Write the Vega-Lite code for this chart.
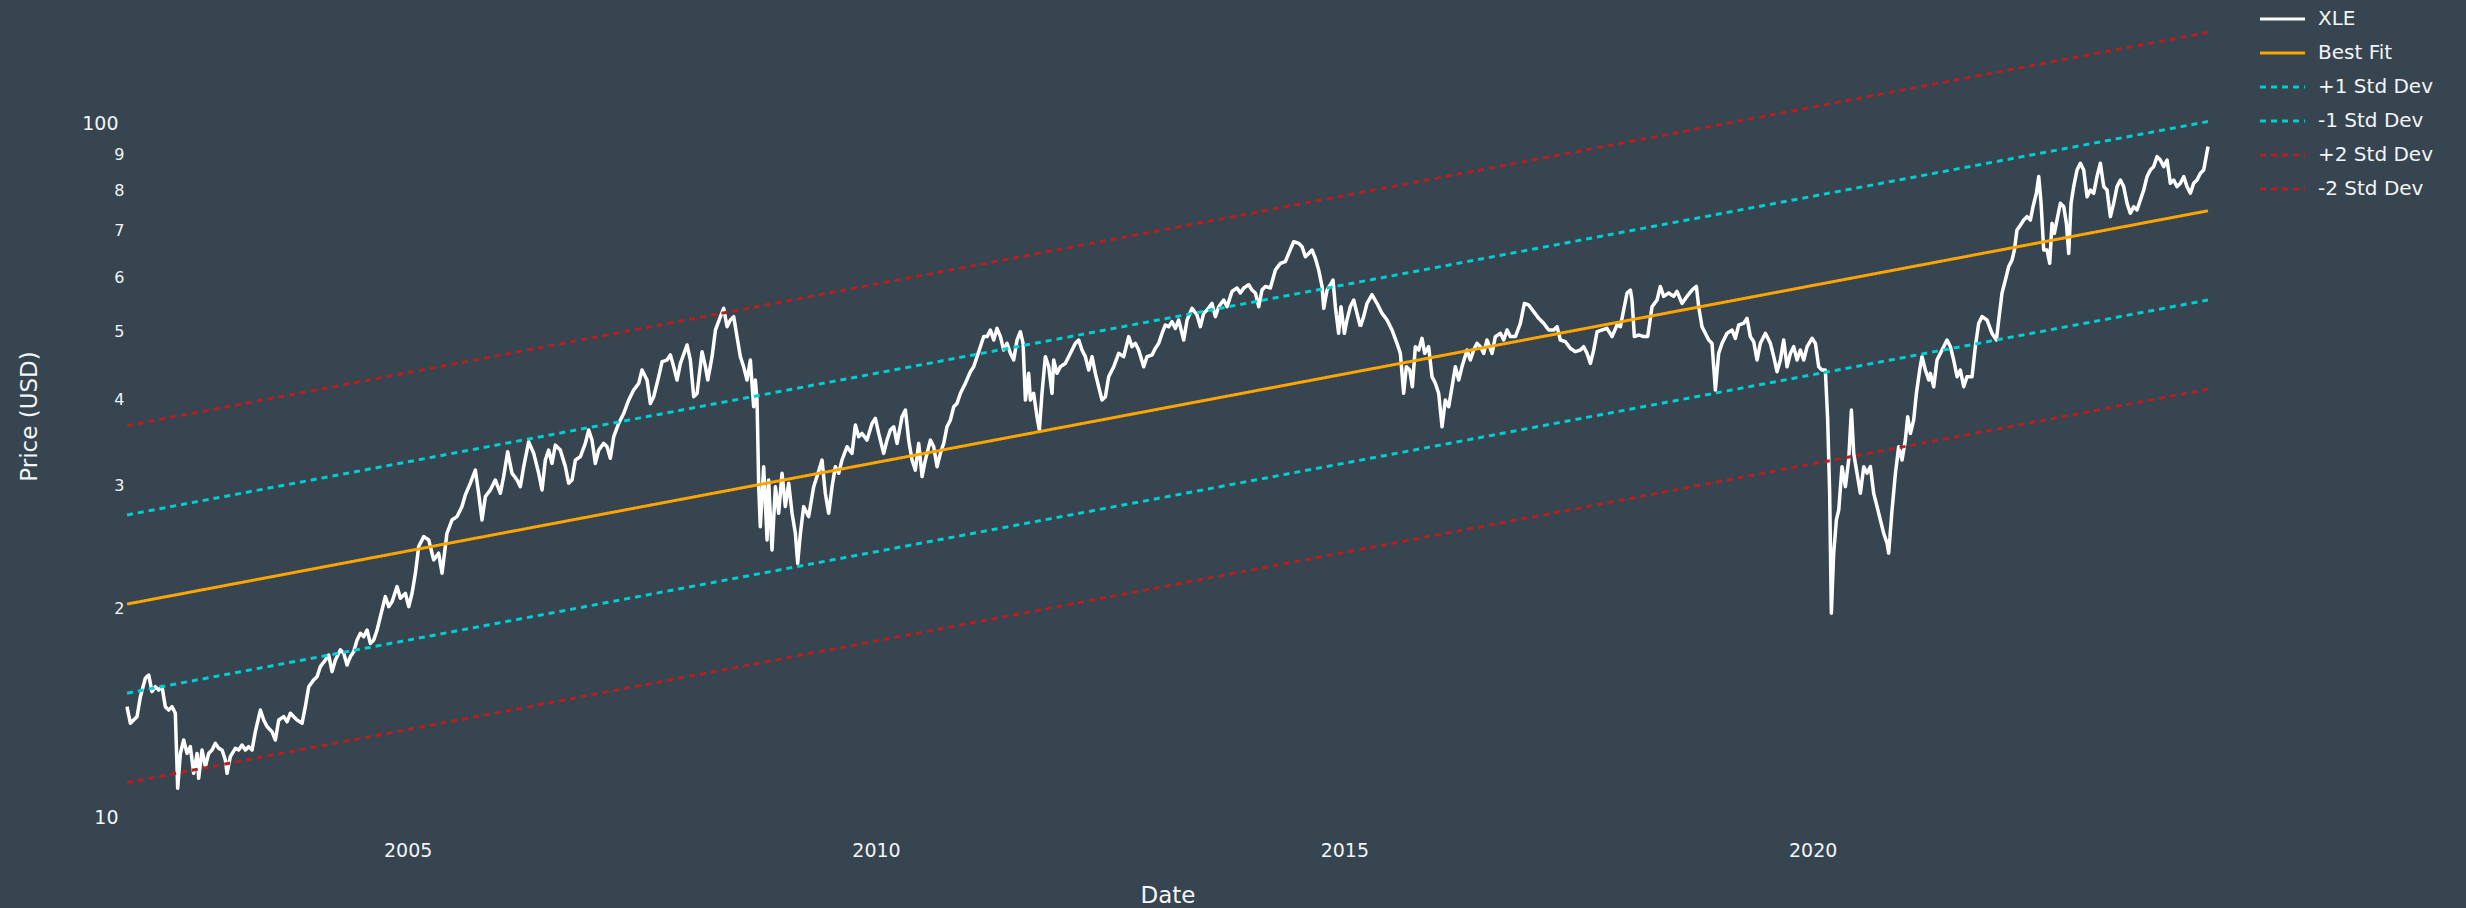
{
"$schema": "https://vega.github.io/schema/vega-lite/v6.json",
"width": 2081, "height": 797,
"autosize": {"type": "none"},
"padding": {"left": 127, "top": 20, "right": 258, "bottom": 91},
"background": "#36454F",
"config": {"view": {"stroke": null}, "font": "DejaVu Sans",
  "legend": {"orient": "none", "legendX": 2131.5, "legendY": -18, "symbolType": "stroke", "symbolSize": 2025, "symbolStrokeWidth": 3,
    "labelFontSize": 20, "labelColor": "#f2f5fa", "labelFont": "DejaVu Sans", "clipHeight": 34, "rowPadding": 0, "labelOffset": 11.5, "padding": 0, "labelLimit": 300}},
"datasets": {
"fit": [
{"year": 2002.004, "price": 20.27, "series": "Best Fit"}, {"year": 2024.22, "price": 74.76, "series": "Best Fit"},
{"year": 2002.004, "price": 27.25, "series": "+1 Std Dev"}, {"year": 2024.22, "price": 100.52, "series": "+1 Std Dev"},
{"year": 2002.004, "price": 15.08, "series": "-1 Std Dev"}, {"year": 2024.22, "price": 55.60, "series": "-1 Std Dev"},
{"year": 2002.004, "price": 36.64, "series": "+2 Std Dev"}, {"year": 2024.22, "price": 135.15, "series": "+2 Std Dev"},
{"year": 2002.004, "price": 11.21, "series": "-2 Std Dev"}, {"year": 2024.22, "price": 41.36, "series": "-2 Std Dev"}
],
"xle": [
{"year":2002.004,"price":14.42},{"year":2002.040,"price":13.65},{"year":2002.075,"price":13.80},{"year":2002.111,"price":13.95},{"year":2002.147,"price":14.91},{"year":2002.200,"price":15.85},{"year":2002.236,"price":16.02},{"year":2002.271,"price":15.16},{"year":2002.307,"price":15.41},{"year":2002.342,"price":15.24},{"year":2002.378,"price":15.41},{"year":2002.413,"price":14.42},{"year":2002.449,"price":14.26},{"year":2002.485,"price":14.42},{"year":2002.520,"price":14.11},{"year":2002.545,"price":11.00},{"year":2002.574,"price":12.35},{"year":2002.609,"price":12.91},{"year":2002.645,"price":12.35},{"year":2002.680,"price":12.63},{"year":2002.716,"price":11.56},{"year":2002.752,"price":12.35},{"year":2002.769,"price":11.37},{"year":2002.805,"price":12.49},{"year":2002.841,"price":11.82},{"year":2002.876,"price":12.35},{"year":2002.912,"price":12.49},{"year":2002.947,"price":12.77},{"year":2002.983,"price":12.56},{"year":2003.019,"price":12.49},{"year":2003.054,"price":12.08},{"year":2003.072,"price":11.56},{"year":2003.107,"price":12.22},{"year":2003.161,"price":12.56},{"year":2003.196,"price":12.49},{"year":2003.232,"price":12.70},{"year":2003.268,"price":12.49},{"year":2003.303,"price":12.63},{"year":2003.339,"price":12.49},{"year":2003.374,"price":13.27},{"year":2003.428,"price":14.26},{"year":2003.463,"price":13.80},{"year":2003.499,"price":13.50},{"year":2003.552,"price":13.27},{"year":2003.588,"price":12.91},{"year":2003.624,"price":13.80},{"year":2003.677,"price":13.95},{"year":2003.713,"price":13.72},{"year":2003.748,"price":14.11},{"year":2003.784,"price":13.95},{"year":2003.819,"price":13.80},{"year":2003.873,"price":13.65},{"year":2003.908,"price":14.42},{"year":2003.944,"price":15.41},{"year":2003.997,"price":15.76},{"year":2004.033,"price":15.93},{"year":2004.068,"price":16.47},{"year":2004.122,"price":16.84},{"year":2004.157,"price":17.12},{"year":2004.193,"price":16.20},{"year":2004.229,"price":16.84},{"year":2004.282,"price":17.41},{"year":2004.318,"price":17.22},{"year":2004.353,"price":16.56},{"year":2004.389,"price":17.03},{"year":2004.424,"price":17.31},{"year":2004.460,"price":17.99},{"year":2004.496,"price":18.40},{"year":2004.531,"price":18.19},{"year":2004.567,"price":18.60},{"year":2004.602,"price":17.79},{"year":2004.638,"price":17.99},{"year":2004.674,"price":18.60},{"year":2004.709,"price":19.45},{"year":2004.762,"price":20.78},{"year":2004.798,"price":20.10},{"year":2004.834,"price":20.43},{"year":2004.887,"price":21.48},{"year":2004.923,"price":20.66},{"year":2004.976,"price":21.01},{"year":2005.012,"price":20.10},{"year":2005.047,"price":21.01},{"year":2005.083,"price":22.46},{"year":2005.118,"price":24.53},{"year":2005.154,"price":25.08},
{"year":2005.171,"price":25.36},{"year":2005.225,"price":25.08},{"year":2005.278,"price":23.47},{"year":2005.331,"price":24.00},{"year":2005.367,"price":22.46},{"year":2005.420,"price":25.64},{"year":2005.474,"price":26.80},{"year":2005.527,"price":27.10},{"year":2005.580,"price":28.01},{"year":2005.616,"price":29.12},{"year":2005.669,"price":30.27},{"year":2005.723,"price":31.62},{"year":2005.758,"price":29.28},{"year":2005.794,"price":26.80},{"year":2005.830,"price":28.96},{"year":2005.883,"price":29.60},{"year":2005.936,"price":30.60},{"year":2005.990,"price":29.28},{"year":2006.025,"price":30.95},{"year":2006.068,"price":33.60},{"year":2006.114,"price":31.29},{"year":2006.168,"price":30.60},{"year":2006.203,"price":29.93},{"year":2006.239,"price":31.98},{"year":2006.292,"price":34.73},{"year":2006.346,"price":33.42},{"year":2006.399,"price":31.29},{"year":2006.435,"price":29.60},{"year":2006.470,"price":32.69},{"year":2006.506,"price":33.79},{"year":2006.541,"price":32.33},{"year":2006.577,"price":34.35},{"year":2006.630,"price":33.79},{"year":2006.684,"price":31.98},{"year":2006.719,"price":30.27},{"year":2006.755,"price":30.60},{"year":2006.791,"price":32.69},{"year":2006.844,"price":33.06},{"year":2006.897,"price":34.55},{"year":2006.933,"price":36.11},{"year":2006.968,"price":34.93},{"year":2007.004,"price":32.33},{"year":2007.040,"price":33.79},{"year":2007.093,"price":34.55},{"year":2007.129,"price":34.17},{"year":2007.164,"price":32.88},{"year":2007.200,"price":35.32},{"year":2007.253,"price":36.92},{"year":2007.307,"price":38.17},{"year":2007.360,"price":39.89},{"year":2007.413,"price":41.24},{"year":2007.467,"price":42.16},{"year":2007.502,"price":44.07},{"year":2007.556,"price":42.63},{"year":2007.591,"price":39.45},{"year":2007.627,"price":40.34},{"year":2007.680,"price":43.10},{"year":2007.716,"price":45.30},{"year":2007.769,"price":45.56},{"year":2007.805,"price":46.33},{"year":2007.840,"price":44.56},{"year":2007.876,"price":42.63},{"year":2007.912,"price":45.05},{"year":2007.983,"price":47.89},{"year":2008.018,"price":45.56},{"year":2008.054,"price":40.34},{"year":2008.090,"price":40.79},{"year":2008.143,"price":46.84},{"year":2008.179,"price":44.56},{"year":2008.204,"price":42.63},{"year":2008.250,"price":46.07},{"year":2008.286,"price":50.33},{"year":2008.339,"price":52.61},{"year":2008.374,"price":54.08},{"year":2008.410,"price":50.89},{"year":2008.446,"price":52.03},
{"year":2008.481,"price":52.61},{"year":2008.516,"price":49.24},{"year":2008.552,"price":46.07},{"year":2008.587,"price":44.56},{"year":2008.623,"price":42.63},{"year":2008.659,"price":45.56},{"year":2008.676,"price":42.16},{"year":2008.694,"price":39.02},{"year":2008.712,"price":42.63},{"year":2008.730,"price":39.89},{"year":2008.748,"price":29.93},{"year":2008.765,"price":26.20},{"year":2008.801,"price":31.98},{"year":2008.837,"price":25.08},{"year":2008.854,"price":30.60},{"year":2008.872,"price":27.10},{"year":2008.890,"price":24.26},{"year":2008.926,"price":29.93},{"year":2008.961,"price":27.40},{"year":2008.997,"price":31.29},{"year":2009.032,"price":28.01},{"year":2009.068,"price":30.27},{"year":2009.104,"price":27.40},{"year":2009.139,"price":25.64},{"year":2009.164,"price":23.21},{"year":2009.193,"price":25.64},{"year":2009.228,"price":28.01},{"year":2009.281,"price":27.10},{"year":2009.335,"price":29.93},{"year":2009.370,"price":30.95},{"year":2009.424,"price":32.69},{"year":2009.459,"price":29.28},{"year":2009.495,"price":27.40},{"year":2009.531,"price":29.93},{"year":2009.566,"price":31.98},{"year":2009.602,"price":31.29},{"year":2009.637,"price":32.69},{"year":2009.691,"price":34.17},{"year":2009.744,"price":33.42},{"year":2009.780,"price":36.72},{"year":2009.815,"price":35.32},{"year":2009.851,"price":35.71},{"year":2009.904,"price":34.93},{"year":2009.958,"price":36.92},{"year":2009.993,"price":37.54},{"year":2010.029,"price":35.71},{"year":2010.082,"price":33.42},{"year":2010.118,"price":34.93},{"year":2010.153,"price":36.11},{"year":2010.189,"price":36.51},{"year":2010.225,"price":34.55},{"year":2010.278,"price":37.75},{"year":2010.314,"price":38.59},{"year":2010.349,"price":34.93},{"year":2010.385,"price":32.69},{"year":2010.420,"price":31.62},{"year":2010.456,"price":34.55},{"year":2010.492,"price":30.95},{"year":2010.527,"price":32.69},{"year":2010.581,"price":34.93},{"year":2010.616,"price":34.17},{"year":2010.652,"price":31.98},{"year":2010.687,"price":33.42},{"year":2010.723,"price":34.55},{"year":2010.758,"price":36.51},{"year":2010.794,"price":37.33},{"year":2010.830,"price":39.02},{"year":2010.865,"price":39.45},{"year":2010.901,"price":40.79},{"year":2010.954,"price":42.16},{"year":2011.008,"price":43.83},{"year":2011.043,"price":44.56},{"year":2011.079,"price":46.07},{"year":2011.114,"price":47.62},{"year":2011.150,"price":49.24},{"year":2011.186,"price":49.24},{"year":2011.221,"price":50.33},{"year":2011.257,"price":48.69},{"year":2011.292,"price":50.61},{"year":2011.328,"price":49.24},{"year":2011.363,"price":47.10},{"year":2011.399,"price":48.15},{"year":2011.435,"price":46.58},{"year":2011.470,"price":45.56},{"year":2011.506,"price":48.69},{"year":2011.541,"price":50.05},{"year":2011.570,"price":48.15},{"year":2011.595,"price":39.89},{"year":2011.630,"price":43.59},{"year":2011.648,"price":39.89},
{"year":2011.683,"price":40.79},{"year":2011.719,"price":37.75},{"year":2011.744,"price":36.11},{"year":2011.772,"price":40.79},{"year":2011.808,"price":46.07},{"year":2011.844,"price":44.56},{"year":2011.879,"price":40.79},{"year":2011.897,"price":45.56},{"year":2011.932,"price":43.59},{"year":2011.968,"price":44.56},{"year":2012.021,"price":45.05},{"year":2012.075,"price":46.58},{"year":2012.128,"price":48.15},{"year":2012.164,"price":48.69},{"year":2012.199,"price":47.10},{"year":2012.235,"price":46.07},{"year":2012.271,"price":44.07},{"year":2012.306,"price":46.07},{"year":2012.342,"price":43.59},{"year":2012.377,"price":41.69},{"year":2012.413,"price":39.89},{"year":2012.449,"price":40.34},{"year":2012.484,"price":43.10},{"year":2012.538,"price":44.56},{"year":2012.591,"price":46.58},{"year":2012.644,"price":46.07},{"year":2012.698,"price":49.24},{"year":2012.733,"price":47.62},{"year":2012.769,"price":48.15},{"year":2012.804,"price":47.10},{"year":2012.858,"price":44.56},{"year":2012.893,"price":46.07},{"year":2012.947,"price":46.33},{"year":2012.982,"price":47.36},{"year":2013.018,"price":48.15},{"year":2013.054,"price":49.78},{"year":2013.089,"price":51.18},{"year":2013.125,"price":50.89},{"year":2013.160,"price":51.74},{"year":2013.196,"price":50.61},{"year":2013.231,"price":52.03},{"year":2013.285,"price":48.69},{"year":2013.321,"price":52.03},{"year":2013.374,"price":54.08},{"year":2013.427,"price":52.91},{"year":2013.463,"price":50.89},{"year":2013.498,"price":53.20},{"year":2013.534,"price":53.78},{"year":2013.587,"price":54.97},{"year":2013.623,"price":52.61},{"year":2013.659,"price":54.38},{"year":2013.712,"price":55.60},{"year":2013.748,"price":54.38},{"year":2013.801,"price":57.22},{"year":2013.854,"price":57.86},{"year":2013.890,"price":56.91},{"year":2013.926,"price":57.86},{"year":2013.979,"price":58.49},{"year":2014.014,"price":57.47},{"year":2014.050,"price":56.91},{"year":2014.086,"price":54.38},{"year":2014.121,"price":57.47},{"year":2014.157,"price":58.16},{"year":2014.210,"price":57.86},{"year":2014.264,"price":61.42},{"year":2014.317,"price":62.80},{"year":2014.370,"price":63.14},{"year":2014.406,"price":64.90},{"year":2014.459,"price":67.47},{"year":2014.513,"price":67.10},{"year":2014.548,"price":66.37},{"year":2014.584,"price":64.18},{"year":2014.620,"price":64.90},{"year":2014.655,"price":65.63},{"year":2014.691,"price":63.84},{"year":2014.726,"price":61.42},{"year":2014.762,"price":58.16},{"year":2014.780,"price":54.08},{"year":2014.815,"price":57.47},{"year":2014.851,"price":58.49},
{"year":2014.879,"price":59.41},{"year":2014.904,"price":54.38},{"year":2014.939,"price":49.78},{"year":2014.964,"price":54.38},{"year":2015.000,"price":49.78},{"year":2015.028,"price":52.03},{"year":2015.064,"price":54.38},{"year":2015.100,"price":55.60},{"year":2015.135,"price":53.20},{"year":2015.171,"price":50.89},{"year":2015.206,"price":52.61},{"year":2015.242,"price":54.97},{"year":2015.295,"price":56.59},{"year":2015.349,"price":54.97},{"year":2015.402,"price":53.20},{"year":2015.456,"price":52.03},{"year":2015.509,"price":50.33},{"year":2015.562,"price":48.15},{"year":2015.598,"price":46.58},{"year":2015.633,"price":40.79},{"year":2015.662,"price":44.56},{"year":2015.698,"price":44.07},{"year":2015.726,"price":41.69},{"year":2015.758,"price":47.62},{"year":2015.794,"price":47.10},{"year":2015.829,"price":48.96},{"year":2015.858,"price":46.58},{"year":2015.900,"price":47.62},{"year":2015.936,"price":43.10},{"year":2015.972,"price":42.16},{"year":2016.007,"price":40.79},{"year":2016.043,"price":36.51},{"year":2016.078,"price":39.89},{"year":2016.114,"price":39.02},{"year":2016.150,"price":41.69},{"year":2016.185,"price":44.56},{"year":2016.221,"price":42.63},{"year":2016.256,"price":44.56},{"year":2016.310,"price":47.10},{"year":2016.345,"price":45.56},{"year":2016.381,"price":47.10},{"year":2016.416,"price":48.15},{"year":2016.452,"price":47.62},{"year":2016.488,"price":46.58},{"year":2016.523,"price":48.69},{"year":2016.577,"price":46.58},{"year":2016.612,"price":49.24},{"year":2016.666,"price":49.78},{"year":2016.701,"price":48.69},{"year":2016.737,"price":50.33},{"year":2016.773,"price":49.24},{"year":2016.826,"price":49.24},{"year":2016.879,"price":51.46},{"year":2016.922,"price":54.97},{"year":2016.968,"price":54.68},{"year":2017.022,"price":53.48},{"year":2017.075,"price":52.32},{"year":2017.128,"price":51.46},{"year":2017.182,"price":50.33},{"year":2017.235,"price":50.33},{"year":2017.271,"price":50.89},{"year":2017.306,"price":48.69},{"year":2017.360,"price":48.42},{"year":2017.413,"price":47.36},{"year":2017.466,"price":46.84},{"year":2017.520,"price":47.10},{"year":2017.555,"price":47.62},{"year":2017.591,"price":46.58},{"year":2017.627,"price":45.05},{"year":2017.662,"price":47.10},{"year":2017.698,"price":50.05},{"year":2017.751,"price":50.33},{"year":2017.804,"price":50.61},{"year":2017.858,"price":49.24},{"year":2017.911,"price":51.18},{"year":2017.947,"price":50.89},{"year":2017.982,"price":53.78},{"year":2018.018,"price":56.91},{"year":2018.054,"price":57.47},
{"year":2018.071,"price":55.60},{"year":2018.096,"price":49.24},{"year":2018.142,"price":49.51},{"year":2018.196,"price":49.24},{"year":2018.238,"price":49.24},{"year":2018.285,"price":54.38},{"year":2018.338,"price":55.60},{"year":2018.373,"price":58.16},{"year":2018.409,"price":56.27},{"year":2018.462,"price":56.91},{"year":2018.516,"price":56.27},{"year":2018.551,"price":57.22},{"year":2018.605,"price":54.97},{"year":2018.658,"price":56.27},{"year":2018.712,"price":57.47},{"year":2018.758,"price":58.16},{"year":2018.783,"price":54.38},{"year":2018.818,"price":50.89},{"year":2018.854,"price":49.78},{"year":2018.890,"price":48.69},{"year":2018.925,"price":48.15},{"year":2018.961,"price":41.24},{"year":2018.996,"price":46.58},{"year":2019.032,"price":48.15},{"year":2019.085,"price":49.78},{"year":2019.139,"price":50.33},{"year":2019.174,"price":48.96},{"year":2019.210,"price":51.18},{"year":2019.263,"price":51.46},{"year":2019.299,"price":52.32},{"year":2019.334,"price":49.24},{"year":2019.370,"price":48.42},{"year":2019.406,"price":45.56},{"year":2019.441,"price":48.15},{"year":2019.495,"price":49.78},{"year":2019.548,"price":48.15},{"year":2019.584,"price":46.07},{"year":2019.619,"price":43.83},{"year":2019.655,"price":45.56},{"year":2019.690,"price":48.69},{"year":2019.726,"price":44.56},{"year":2019.762,"price":46.58},{"year":2019.797,"price":47.62},{"year":2019.833,"price":45.56},{"year":2019.868,"price":47.10},{"year":2019.904,"price":45.56},{"year":2019.940,"price":47.62},{"year":2019.993,"price":48.96},{"year":2020.029,"price":48.15},{"year":2020.064,"price":44.56},{"year":2020.100,"price":44.07},{"year":2020.135,"price":44.07},{"year":2020.160,"price":37.33},{"year":2020.181,"price":29.28},{"year":2020.199,"price":19.66},{"year":2020.224,"price":24.00},{"year":2020.253,"price":26.80},{"year":2020.278,"price":27.70},{"year":2020.313,"price":31.98},{"year":2020.349,"price":29.93},{"year":2020.384,"price":32.69},{"year":2020.413,"price":38.59},{"year":2020.438,"price":33.42},{"year":2020.473,"price":31.29},{"year":2020.509,"price":29.28},{"year":2020.545,"price":31.98},{"year":2020.580,"price":31.29},{"year":2020.616,"price":31.98},{"year":2020.651,"price":29.28},{"year":2020.687,"price":28.01},{"year":2020.722,"price":26.80},{"year":2020.758,"price":25.64},{"year":2020.794,"price":24.81},{"year":2020.811,"price":24.00},{"year":2020.847,"price":27.70},{"year":2020.883,"price":31.29},{"year":2020.918,"price":34.17},{"year":2020.954,"price":32.69},{"year":2020.989,"price":34.93},{"year":2021.014,"price":37.75},{"year":2021.043,"price":35.71},{"year":2021.078,"price":37.33},{"year":2021.107,"price":40.79},{"year":2021.142,"price":44.07},{"year":2021.167,"price":46.07},{"year":2021.203,"price":44.07},{"year":2021.239,"price":42.63},{"year":2021.256,"price":43.59},
{"year":2021.292,"price":41.69},{"year":2021.327,"price":45.56},{"year":2021.381,"price":47.10},{"year":2021.434,"price":48.69},{"year":2021.470,"price":47.62},{"year":2021.505,"price":45.56},{"year":2021.541,"price":43.10},{"year":2021.576,"price":44.07},{"year":2021.612,"price":41.69},{"year":2021.647,"price":43.10},{"year":2021.701,"price":43.10},{"year":2021.736,"price":47.62},{"year":2021.772,"price":51.46},{"year":2021.808,"price":52.61},{"year":2021.861,"price":52.03},{"year":2021.914,"price":49.78},{"year":2021.961,"price":48.69},{"year":2021.986,"price":52.03},{"year":2022.021,"price":56.91},{"year":2022.057,"price":59.41},{"year":2022.092,"price":62.11},{"year":2022.128,"price":63.49},{"year":2022.153,"price":65.63},{"year":2022.181,"price":70.14},{"year":2022.217,"price":71.26},{"year":2022.253,"price":72.51},{"year":2022.288,"price":73.32},{"year":2022.324,"price":72.51},{"year":2022.352,"price":75.78},{"year":2022.388,"price":79.23},{"year":2022.413,"price":83.74},{"year":2022.438,"price":76.63},{"year":2022.466,"price":65.63},{"year":2022.502,"price":65.63},{"year":2022.530,"price":62.80},{"year":2022.555,"price":71.72},{"year":2022.580,"price":69.36},{"year":2022.608,"price":72.51},{"year":2022.644,"price":76.63},{"year":2022.680,"price":75.78},{"year":2022.708,"price":71.72},{"year":2022.733,"price":64.90},{"year":2022.758,"price":76.63},{"year":2022.786,"price":81.00},{"year":2022.822,"price":85.60},{"year":2022.858,"price":87.52},{"year":2022.893,"price":85.60},{"year":2022.929,"price":78.34},{"year":2022.964,"price":80.10},{"year":2023.000,"price":79.23},{"year":2023.035,"price":83.74},{"year":2023.071,"price":87.52},{"year":2023.107,"price":81.00},{"year":2023.142,"price":80.10},{"year":2023.178,"price":73.32},{"year":2023.213,"price":76.63},{"year":2023.249,"price":81.00},{"year":2023.285,"price":82.80},{"year":2023.320,"price":81.00},{"year":2023.356,"price":76.63},{"year":2023.391,"price":74.13},{"year":2023.427,"price":75.78},{"year":2023.462,"price":74.95},{"year":2023.498,"price":77.48},{"year":2023.534,"price":80.10},{"year":2023.569,"price":83.74},{"year":2023.605,"price":85.60},{"year":2023.640,"price":86.55},{"year":2023.676,"price":89.47},{"year":2023.711,"price":88.48},{"year":2023.747,"price":86.55},{"year":2023.783,"price":88.48},{"year":2023.818,"price":81.90},{"year":2023.854,"price":82.80},{"year":2023.889,"price":81.00},{"year":2023.925,"price":81.90},{"year":2023.961,"price":83.74},{"year":2023.996,"price":81.00},{"year":2024.032,"price":79.23},{"year":2024.067,"price":81.90},{"year":2024.103,"price":82.80},{"year":2024.139,"price":84.65},{"year":2024.174,"price":85.60},{"year":2024.220,"price":92.48}
]
},
"encoding": {
  "x": {"field": "year", "type": "quantitative",
    "scale": {"domain": [2002.004, 2024.22], "nice": false, "zero": false},
    "axis": {"title": "Date", "values": [2005, 2010, 2015, 2020], "format": "d", "grid": false, "domain": false, "ticks": false,
      "labelColor": "#f2f5fa", "labelFontSize": 19, "labelBaseline": "middle", "labelPadding": 33, "labelFont": "DejaVu Sans",
      "titleColor": "#f2f5fa", "titleFontSize": 23, "titleFontWeight": "normal", "titleFont": "DejaVu Sans", "titleBaseline": "middle", "titleY": 78}},
  "y": {"field": "price", "type": "quantitative",
    "scale": {"type": "log", "domain": [10, 140.8], "nice": false},
    "axis": {"title": "Price (USD)", "values": [10, 20, 30, 40, 50, 60, 70, 80, 90, 100], "grid": false, "domain": false, "ticks": false,
      "labelExpr": "datum.value <= 10 || datum.value >= 100 ? format(datum.value, 'd') : format(datum.value / 10, 'd')",
      "labelColor": "#f2f5fa", "labelFont": "DejaVu Sans",
      "labelFontSize": {"condition": {"test": "datum.value <= 10 || datum.value >= 100", "value": 19}, "value": 16},
      "labelPadding": {"condition": {"test": "datum.value <= 10 || datum.value >= 100", "value": 9}, "value": 3},
      "titleColor": "#f2f5fa", "titleFontSize": 23, "titleFontWeight": "normal", "titleFont": "DejaVu Sans",
      "titleX": -98, "titleY": 396, "titleBaseline": "middle", "titleAlign": "center", "titleAngle": -90}}
},
"layer": [
  {"data": {"name": "xle"},
   "mark": {"type": "line", "strokeWidth": 3.5, "strokeJoin": "round"},
   "encoding": {
     "color": {"datum": "XLE", "type": "nominal",
       "scale": {"domain": ["XLE", "Best Fit", "+1 Std Dev", "-1 Std Dev", "+2 Std Dev", "-2 Std Dev"], "range": ["#ffffff", "#ffa500", "#00ced1", "#00ced1", "#b22222", "#b22222"]},
       "legend": {"title": null}},
     "strokeDash": {"datum": "XLE", "type": "nominal",
       "scale": {"domain": ["XLE", "Best Fit", "+1 Std Dev", "-1 Std Dev", "+2 Std Dev", "-2 Std Dev"], "range": [[1, 0], [1, 0], [6, 5], [6, 5], [6, 5], [6, 5]]},
       "legend": {"title": null}}
   }},
  {"data": {"name": "fit"},
   "mark": {"type": "line", "strokeWidth": 3},
   "encoding": {
     "color": {"field": "series", "type": "nominal", "legend": {"title": null}},
     "strokeDash": {"field": "series", "type": "nominal", "legend": {"title": null}}
   }}
]
}
